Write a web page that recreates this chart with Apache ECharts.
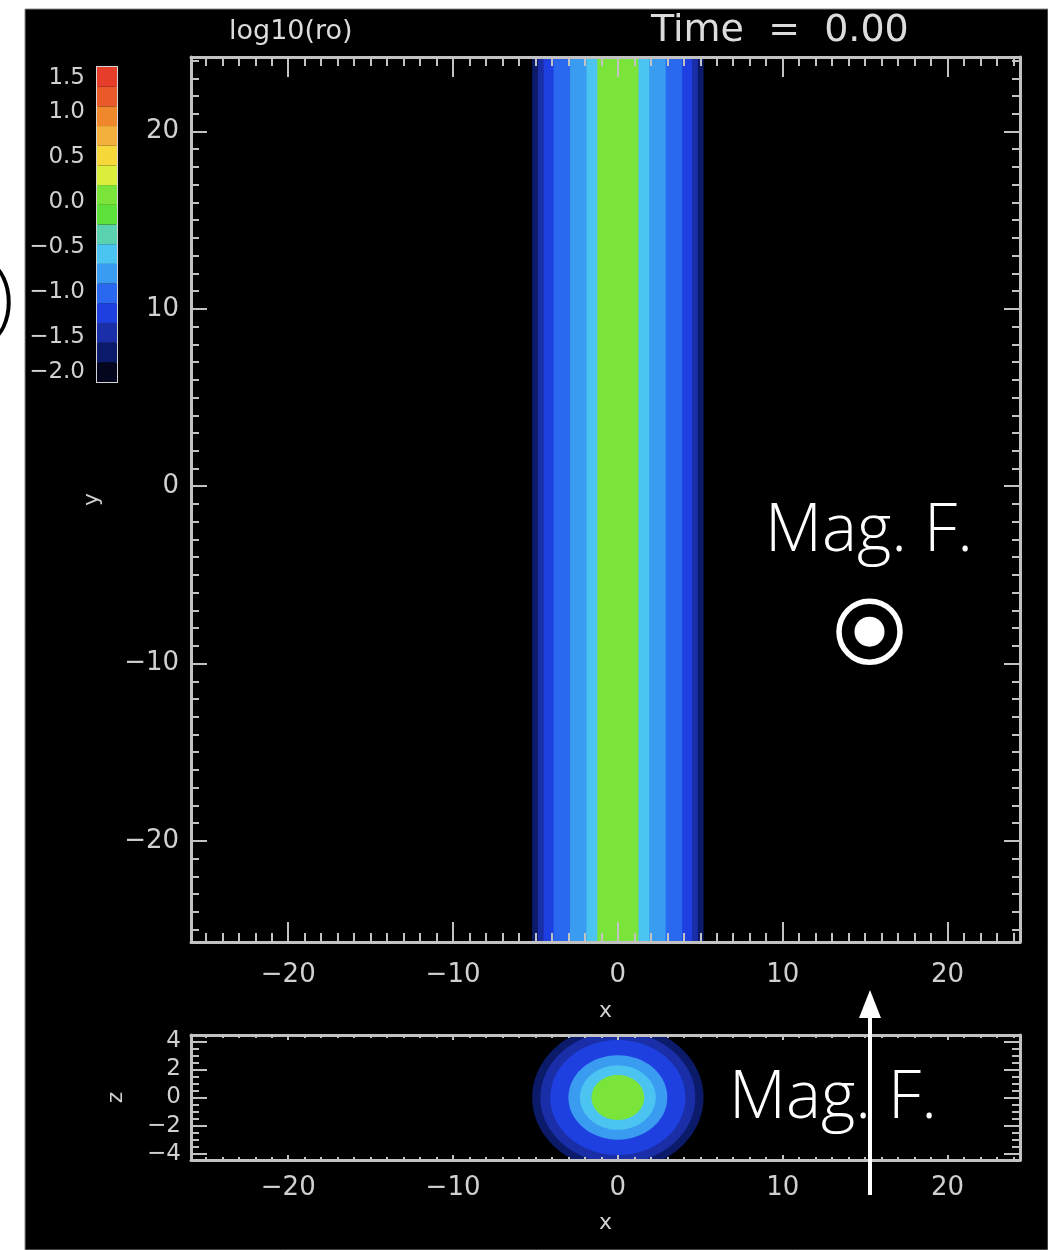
<!DOCTYPE html>
<html>
<head>
<meta charset="utf-8">
<script src="https://cdn.jsdelivr.net/npm/echarts@6/dist/echarts.min.js"></script>
<style>
  html, body { margin: 0; padding: 0; background: #ffffff; }
  #chart { width: 1048px; height: 1250px; }
</style>
</head>
<body>
<div id="chart"></div>
<script>
// Density tube across x in the x-y plane: outer |x| of each band and its log10(ro)
const bandRadius = [5.2, 4.85, 4.5, 3.9, 2.9, 1.9, 1.25];
const bandLogRho = [-1.7, -1.45, -1.25, -1.0, -0.8, -0.55, 0.0];

// Same tube cut in the x-z plane: outer radius of each ring and its log10(ro)
const sliceRadius = [5.2, 4.7, 4.1, 3.0, 2.3, 1.6];
const sliceLogRho = [-1.7, -1.45, -1.2, -0.8, -0.55, 0.0];

// Colour table for log10(ro), from the lowest level upwards
const cbMin = -2.0;
const cbMax = 1.5;
const cbColors = [
  '#03061c', '#0c1a6a', '#1a2ea8', '#1f40e0', '#2a68f0', '#3a9cf0', '#4cc4f2', '#5ad2b0',
  '#5ee03a', '#7ae43a', '#dcee3c', '#f6d83a', '#f4b03c', '#ef882c', '#e85a2a', '#e63e2a'
];
const cbStep = (cbMax - cbMin) / cbColors.length;

// Axis extents and tick labels
const xRange = [-25.9, 24.4];
const yRange = [-25.7, 24.2];
const zRange = [-4.45, 4.45];
const xMajor = [-20, -10, 0, 10, 20];
const yMajor = [-20, -10, 0, 10, 20];
const zMajor = [-4, -2, 0, 2, 4];

function minorTicks(range, step, majors) {
  const out = [];
  for (let v = Math.ceil(range[0] / step) * step; v <= range[1] + 1e-9; v += step) {
    const r = Math.round(v * 100) / 100;
    if (!majors.includes(r)) out.push(r);
  }
  return out;
}
const xMinor = minorTicks(xRange, 1, xMajor);
const yMinor = minorTicks(yRange, 1, yMajor);
const zMinor = minorTicks(zRange, 0.5, zMajor);

const LINE = '#c2c2c2';
const TXT = '#d0d0d0';
const FONT = '"DejaVu Sans", sans-serif';
const minus = s => String(s).replace('-', '\u2212');

function axis(gridIndex, position, range, ticks, len, withLine, label, extra) {
  return Object.assign({
    type: 'value',
    gridIndex: gridIndex,
    position: position,
    min: range[0],
    max: range[1],
    z: 10,
    axisLine: { show: withLine, onZero: false, lineStyle: { color: LINE, width: 3 } },
    axisTick: { show: true, inside: true, length: len, customValues: ticks,
                lineStyle: { color: LINE, width: 2 } },
    axisLabel: label
      ? Object.assign({ show: true, customValues: ticks, color: TXT, fontFamily: FONT,
                        formatter: v => minus(v) }, label)
      : { show: false },
    splitLine: { show: false }
  }, extra || {});
}

const nameStyle = { color: TXT, fontSize: 22, fontFamily: FONT };

const xAxes = [
  // main panel
  axis(0, 'bottom', xRange, xMajor, 20, true, { fontSize: 26, margin: 20 },
       { name: 'x', nameLocation: 'middle', nameGap: 58, nameTextStyle: nameStyle }),
  axis(0, 'bottom', xRange, xMinor, 9, false, null),
  axis(0, 'top', xRange, xMajor, 20, true, null),
  axis(0, 'top', xRange, xMinor, 9, false, null),
  // x-z slice
  axis(1, 'bottom', xRange, xMajor, 5, true, { fontSize: 26, margin: 15 },
       { name: 'x', nameLocation: 'middle', nameGap: 52, nameTextStyle: nameStyle }),
  axis(1, 'bottom', xRange, xMinor, 3, false, null),
  axis(1, 'top', xRange, xMajor, 5, true, null),
  axis(1, 'top', xRange, xMinor, 3, false, null),
  // colour bar
  { type: 'value', gridIndex: 2, min: 0, max: 1, show: false }
];

const yAxes = [
  axis(0, 'left', yRange, yMajor, 16, true, { fontSize: 26, margin: 12 },
       { name: 'y', nameLocation: 'middle', nameGap: 88, nameTextStyle: nameStyle }),
  axis(0, 'left', yRange, yMinor, 8, false, null),
  axis(0, 'right', yRange, yMajor, 16, true, null),
  axis(0, 'right', yRange, yMinor, 8, false, null),
  axis(1, 'left', zRange, zMajor, 16, true, { fontSize: 23, margin: 10 },
       { name: 'z', nameLocation: 'middle', nameGap: 64, nameTextStyle: nameStyle }),
  axis(1, 'left', zRange, zMinor, 8, false, null),
  axis(1, 'right', zRange, zMajor, 16, true, null),
  axis(1, 'right', zRange, zMinor, 8, false, null),
  {
    type: 'value', gridIndex: 2, position: 'left', min: cbMin, max: cbMax, interval: 0.5,
    axisLine: { show: false }, axisTick: { show: false }, splitLine: { show: false },
    axisLabel: {
      color: TXT, fontSize: 23, fontFamily: FONT, margin: 12,
      formatter: v => {
        const s = minus(v.toFixed(1));
        if (v === cbMin) return '{lo|' + s + '}';
        if (v === cbMax) return '{hi|' + s + '}';
        return s;
      },
      rich: {
        lo: { color: TXT, fontSize: 23, fontFamily: FONT, padding: [0, 0, 20, 0] },
        hi: { color: TXT, fontSize: 23, fontFamily: FONT, padding: [22, 0, 0, 0] }
      }
    }
  }
];

const option = {
  animation: false,
  backgroundColor: '#ffffff',
  title: [
    { text: 'log10(ro)', left: 229, top: 18, padding: 0,
      textStyle: { color: '#dcdcdc', fontSize: 27, fontWeight: 'normal', fontFamily: FONT } },
    { text: 'Time  =  0.00', left: 651, top: 12, padding: 0,
      textStyle: { color: '#dcdcdc', fontSize: 38, fontWeight: 'normal', fontFamily: FONT } }
  ],
  grid: [
    { left: 191, top: 57, width: 829, height: 885 },
    { left: 191, top: 1035, width: 829, height: 125 },
    { left: 97, top: 67, width: 20, height: 315, show: true,
      borderColor: '#d4d4d4', borderWidth: 2, backgroundColor: 'transparent' }
  ],
  xAxis: xAxes,
  yAxis: yAxes,
  visualMap: {
    type: 'piecewise', show: false, dimension: 0, seriesIndex: [0, 1, 2],
    pieces: cbColors.map((c, i) => i === cbColors.length - 1
      ? { gte: cbMin + i * cbStep, lte: cbMax, color: c }
      : { gte: cbMin + i * cbStep, lt: cbMin + (i + 1) * cbStep, color: c })
  },
  series: [
    {
      // x-y plane: the tube is uniform along y
      type: 'custom', xAxisIndex: 0, yAxisIndex: 0, clip: true,
      data: bandLogRho.map((v, i) => [v, bandRadius[i]]),
      renderItem: (params, api) => {
        const r = api.value(1);
        const p0 = api.coord([-r, yRange[1]]);
        const p1 = api.coord([r, yRange[0]]);
        return { type: 'rect',
          shape: { x: p0[0], y: p0[1], width: p1[0] - p0[0], height: p1[1] - p0[1] },
          style: { fill: api.visual('color') } };
      }
    },
    {
      // x-z slice through the tube
      type: 'custom', xAxisIndex: 4, yAxisIndex: 4, clip: true,
      data: sliceLogRho.map((v, i) => [v, sliceRadius[i]]),
      renderItem: (params, api) => {
        const r = api.value(1);
        const c = api.coord([0, 0]);
        const s = api.size([r, r]);
        return { type: 'ellipse',
          shape: { cx: c[0], cy: c[1], rx: s[0], ry: s[1] },
          style: { fill: api.visual('color') } };
      }
    },
    {
      // colour bar
      type: 'custom', xAxisIndex: 8, yAxisIndex: 8,
      data: cbColors.map((c, i) => [cbMin + i * cbStep, 0]),
      renderItem: (params, api) => {
        const v = api.value(0);
        const p0 = api.coord([0, v + cbStep]);
        const p1 = api.coord([1, v]);
        return { type: 'rect',
          shape: { x: p0[0], y: p0[1], width: p1[0] - p0[0], height: p1[1] - p0[1] },
          style: { fill: api.visual('color') } };
      }
    }
  ],
  graphic: [
    { type: 'rect', z: -10, silent: true,
      shape: { x: 25, y: 9, width: 1023, height: 1241 },
      style: { fill: '#000000', stroke: '#8a8a8a', lineWidth: 1 } },
    { type: 'text', z: 100, silent: true,
      style: { text: ')', x: 14, y: 301, textAlign: 'right', textVerticalAlign: 'middle',
               font: '300 80px "Open Sans", sans-serif', fill: '#000000' } },
    { type: 'text', z: 100, silent: true,
      style: { text: 'Mag. F.', x: 869, y: 532, textAlign: 'center', textVerticalAlign: 'middle',
               font: '300 66px "Open Sans", sans-serif', fill: '#ffffff' } },
    { type: 'circle', z: 100, silent: true,
      shape: { cx: 869.5, cy: 631.7, r: 30.5 },
      style: { fill: 'none', stroke: '#ffffff', lineWidth: 5.5 } },
    { type: 'circle', z: 100, silent: true,
      shape: { cx: 869.5, cy: 631.7, r: 15 },
      style: { fill: '#ffffff' } },
    { type: 'text', z: 100, silent: true,
      style: { text: 'Mag. F.', x: 833, y: 1099, textAlign: 'center', textVerticalAlign: 'middle',
               font: '300 66px "Open Sans", sans-serif', fill: '#ffffff' } },
    { type: 'line', z: 101, silent: true,
      shape: { x1: 870, y1: 1195, x2: 870, y2: 1012 },
      style: { stroke: '#ffffff', lineWidth: 4 } },
    { type: 'polygon', z: 101, silent: true,
      shape: { points: [[870, 990], [859, 1018], [881, 1018]] },
      style: { fill: '#ffffff' } }
  ]
};

const chart = echarts.init(document.getElementById('chart'), null, { renderer: 'canvas' });
chart.setOption(option);
</script>
</body>
</html>
